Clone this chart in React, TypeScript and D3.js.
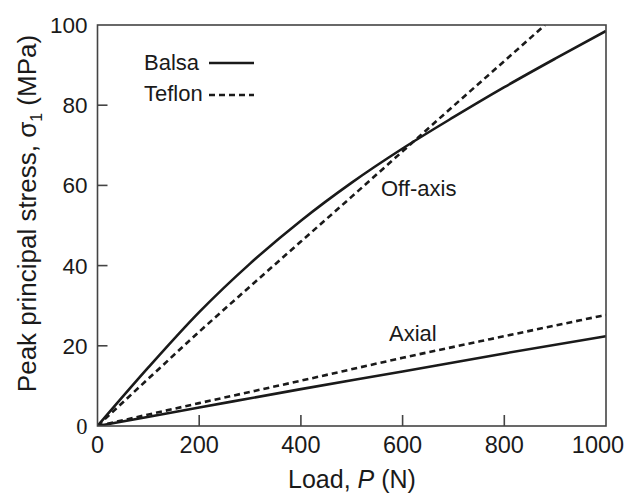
import React from 'react'
import { scaleLinear, line, curveMonotoneX } from 'd3'

// load (N) and stress (MPa)
const offLoad = [0, 100, 200, 300, 400, 500, 600, 700, 800, 900, 1000]
const balsaOff = [0, 14.6, 28.4, 40.5, 51.2, 60.7, 69.2, 77.0, 84.5, 91.6, 98.5]
const teflonOffLoad = [0, 100, 200, 300, 400, 500, 600, 700, 800, 880]
const teflonOff = [0, 11.8, 23.5, 34.8, 46, 57.2, 68.5, 79.8, 91, 100]
const axialLoad = [0, 200, 400, 600, 800, 1000]
const balsaAxial = [0, 4.6, 9.2, 13.6, 18.1, 22.4]
const teflonAxial = [0, 5.7, 11.3, 17, 22.4, 27.7]

const xTicks = [0, 200, 400, 600, 800, 1000]
const yTicks = [0, 20, 40, 60, 80, 100]

const W = 636
const H = 504
const margin = { top: 25, right: 30, bottom: 78, left: 97.5 }

const App = () => {
  const x = scaleLinear().domain([0, 1000]).range([margin.left, W - margin.right])
  const y = scaleLinear().domain([0, 100]).range([H - margin.bottom, margin.top])

  const path = (xs: number[], ys: number[]) =>
    line<number>()
      .x((d, i) => x(xs[i]))
      .y(d => y(d))
      .curve(curveMonotoneX)(ys) || ''

  const ink = '#1a1a1a'
  const font = 'Liberation Sans, Arial, sans-serif'
  const [x0, x1] = x.range()
  const [yb, yt] = y.range()

  return (
    <svg width={W} height={H} style={{ position: 'absolute', left: 0, top: 0, background: '#fff' }}>
      <defs>
        <clipPath id="plot">
          <rect x={x0} y={yt} width={x1 - x0} height={yb - yt} />
        </clipPath>
      </defs>

      <g clipPath="url(#plot)" fill="none" stroke={ink} strokeWidth={2.6}>
        <path d={path(offLoad, balsaOff)} />
        <path d={path(teflonOffLoad, teflonOff)} strokeDasharray="6,4" />
        <path d={path(axialLoad, balsaAxial)} />
        <path d={path(axialLoad, teflonAxial)} strokeDasharray="6,4" />
      </g>

      {/* frame */}
      <rect x={x0} y={yt} width={x1 - x0} height={yb - yt} fill="none" stroke="#444" strokeWidth={1.6} />

      {/* x ticks */}
      {xTicks.map((t, i) => (
        <g key={'x' + t}>
          {i > 0 && i < xTicks.length - 1 && (
            <line x1={x(t)} x2={x(t)} y1={yb} y2={yb - 11} stroke="#444" strokeWidth={1.6} />
          )}
          <text x={x(t) + (t === 1000 ? -8 : 0)} y={453} textAnchor="middle" fontFamily={font} fontSize={23.5} fill={ink}>
            {t}
          </text>
        </g>
      ))}

      {/* y ticks */}
      {yTicks.map((t, i) => (
        <g key={'y' + t}>
          {i > 0 && i < yTicks.length - 1 && (
            <line x1={x0} x2={x0 + 10} y1={y(t)} y2={y(t)} stroke="#444" strokeWidth={1.6} />
          )}
          <text
            x={x0 - 10}
            y={y(t) + 8}
            textAnchor="end"
            fontFamily={t === 0 ? 'Liberation Serif, Times New Roman, serif' : font}
            fontSize={22.5}
            fill={ink}
          >
            {t}
          </text>
        </g>
      ))}

      {/* axis titles */}
      <text x={352} y={488} textAnchor="middle" fontFamily={font} fontSize={25} fill={ink}>
        Load, <tspan fontStyle="italic">P</tspan> (N)
      </text>
      <text
        transform={`translate(36, 213.5) rotate(-90)`}
        textAnchor="middle"
        fontFamily={font}
        fontSize={26}
        fill={ink}
      >
        Peak principal stress, σ<tspan fontSize={16} dy={6}>1</tspan>
        <tspan dy={-6}> (MPa)</tspan>
      </text>

      {/* legend */}
      <g fontFamily={font} fontSize={22} fill={ink}>
        <text x={144} y={70}>Balsa</text>
        <line x1={209} x2={254} y1={63} y2={63} stroke={ink} strokeWidth={2.6} />
        <text x={144} y={101}>Teflon</text>
        <line x1={209} x2={254} y1={95} y2={95} stroke={ink} strokeWidth={2.6} strokeDasharray="6,4" />
        <text x={381} y={196}>Off-axis</text>
        <text x={389} y={341}>Axial</text>
      </g>
    </svg>
  )
}

export default App
